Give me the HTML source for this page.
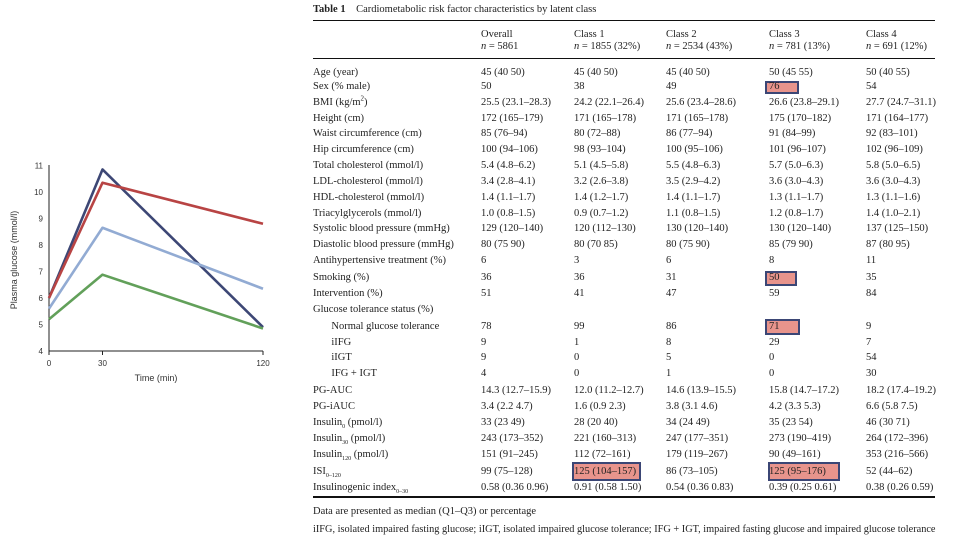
<!DOCTYPE html>
<html><head><meta charset="utf-8">
<style>
body{margin:0;background:#fff;width:960px;height:540px;overflow:hidden;position:relative;font-family:"Liberation Serif",serif;color:#222}
.t{position:absolute;font-size:10.5px;white-space:nowrap;line-height:12px}
.hl{position:absolute;background:#e8948c;border:2px solid #3b4675;box-sizing:border-box}
.ln{position:absolute;background:#111;left:313px;width:622px}
</style></head><body>
<svg id="chart" width="300" height="400" style="position:absolute;left:0;top:0"></svg>
<div id="tbl"></div>
<script>
const times=[0,30,120];
const yTicks=[4,5,6,7,8,9,10,11];
const xTicks=[0,30,120];
const seriesNames=["class-navy","class-red","class-lightblue","class-green"];
const seriesColors=["#3d4775","#b84444","#92abd3","#62a05a"];
const navy=[6.0,10.85,4.9];
const red=[6.0,10.35,8.8];
const lightblue=[5.6,8.65,6.35];
const green=[5.2,6.88,4.85];
const allSeries=[navy,red,lightblue,green];
const NS="http://www.w3.org/2000/svg";
const svg=document.getElementById('chart');
const x=v=>49+(v/120)*214;
const y=v=>351-(v-4)*26.5;
function mk(tag,attrs,parent){const e=document.createElementNS(NS,tag);for(const k in attrs)e.setAttribute(k,attrs[k]);(parent||svg).appendChild(e);return e;}
let a=mk('line',{x1:49,y1:165,x2:49,y2:351,stroke:'#222','stroke-width':1});


a=mk('line',{x1:49,y1:351,x2:263,y2:351,stroke:'#222','stroke-width':1});


yTicks.forEach(t=>{
 const e=mk('text',{x:43,y:y(t)+3,'text-anchor':'end','font-size':8,'font-family':'Liberation Sans','fill':'#333'});
 e.textContent=t;
 
 
});
xTicks.forEach(t=>{
 mk('line',{x1:x(t),y1:351,x2:x(t),y2:355,stroke:'#222'});
 const e=mk('text',{x:x(t),y:366,'text-anchor':'middle','font-size':8,'font-family':'Liberation Sans','fill':'#333'});
 e.textContent=t;
 
 
});
let e=mk('text',{x:156,y:381,'text-anchor':'middle','font-size':9,'font-family':'Liberation Sans','fill':'#333'});
e.textContent='Time (min)';


e=mk('text',{x:0,y:0,'text-anchor':'middle','font-size':9,'font-family':'Liberation Sans','fill':'#333',transform:'translate(17,260) rotate(-90)'});
e.textContent='Plasma glucose (mmol/l)';


allSeries.forEach((s,i)=>{
 const p=mk('polyline',{points:s.map((v,j)=>x(times[j])+','+y(v)).join(' '),fill:'none',stroke:seriesColors[i],'stroke-width':2.6,'stroke-linejoin':'round'});
 
 
});

const cols=[313,481,574,666,769,866];
const rows=[
["Age (year)","45 (40 50)","45 (40 50)","45 (40 50)","50 (45 55)","50 (40 55)"],
["Sex (% male)","50","38","49","76","54"],
["BMI (kg/m<sup style='font-size:7px;line-height:0'>2</sup>)","25.5 (23.1–28.3)","24.2 (22.1–26.4)","25.6 (23.4–28.6)","26.6 (23.8–29.1)","27.7 (24.7–31.1)"],
["Height (cm)","172 (165–179)","171 (165–178)","171 (165–178)","175 (170–182)","171 (164–177)"],
["Waist circumference (cm)","85 (76–94)","80 (72–88)","86 (77–94)","91 (84–99)","92 (83–101)"],
["Hip circumference (cm)","100 (94–106)","98 (93–104)","100 (95–106)","101 (96–107)","102 (96–109)"],
["Total cholesterol (mmol/l)","5.4 (4.8–6.2)","5.1 (4.5–5.8)","5.5 (4.8–6.3)","5.7 (5.0–6.3)","5.8 (5.0–6.5)"],
["LDL-cholesterol (mmol/l)","3.4 (2.8–4.1)","3.2 (2.6–3.8)","3.5 (2.9–4.2)","3.6 (3.0–4.3)","3.6 (3.0–4.3)"],
["HDL-cholesterol (mmol/l)","1.4 (1.1–1.7)","1.4 (1.2–1.7)","1.4 (1.1–1.7)","1.3 (1.1–1.7)","1.3 (1.1–1.6)"],
["Triacylglycerols (mmol/l)","1.0 (0.8–1.5)","0.9 (0.7–1.2)","1.1 (0.8–1.5)","1.2 (0.8–1.7)","1.4 (1.0–2.1)"],
["Systolic blood pressure (mmHg)","129 (120–140)","120 (112–130)","130 (120–140)","130 (120–140)","137 (125–150)"],
["Diastolic blood pressure (mmHg)","80 (75 90)","80 (70 85)","80 (75 90)","85 (79 90)","87 (80 95)"],
["Antihypertensive treatment (%)","6","3","6","8","11"],
["Smoking (%)","36","36","31","50","35"],
["Intervention (%)","51","41","47","59","84"],
["Glucose tolerance status (%)","","","","",""],
["&nbsp;&nbsp;&nbsp;&nbsp;&nbsp;&nbsp;&nbsp;Normal glucose tolerance","78","99","86","71","9"],
["&nbsp;&nbsp;&nbsp;&nbsp;&nbsp;&nbsp;&nbsp;iIFG","9","1","8","29","7"],
["&nbsp;&nbsp;&nbsp;&nbsp;&nbsp;&nbsp;&nbsp;iIGT","9","0","5","0","54"],
["&nbsp;&nbsp;&nbsp;&nbsp;&nbsp;&nbsp;&nbsp;IFG + IGT","4","0","1","0","30"],
["PG-AUC","14.3 (12.7–15.9)","12.0 (11.2–12.7)","14.6 (13.9–15.5)","15.8 (14.7–17.2)","18.2 (17.4–19.2)"],
["PG-iAUC","3.4 (2.2 4.7)","1.6 (0.9 2.3)","3.8 (3.1 4.6)","4.2 (3.3 5.3)","6.6 (5.8 7.5)"],
["Insulin<sub style='font-size:6px'>0</sub> (pmol/l)","33 (23 49)","28 (20 40)","34 (24 49)","35 (23 54)","46 (30 71)"],
["Insulin<sub style='font-size:6px'>30</sub> (pmol/l)","243 (173–352)","221 (160–313)","247 (177–351)","273 (190–419)","264 (172–396)"],
["Insulin<sub style='font-size:6px'>120</sub> (pmol/l)","151 (91–245)","112 (72–161)","179 (119–267)","90 (49–161)","353 (216–566)"],
["ISI<sub style='font-size:6px'>0–120</sub>","99 (75–128)","125 (104–157)","86 (73–105)","125 (95–176)","52 (44–62)"],
["Insulinogenic index<sub style='font-size:6px'>0–30</sub>","0.58 (0.36 0.96)","0.91 (0.58 1.50)","0.54 (0.36 0.83)","0.39 (0.25 0.61)","0.38 (0.26 0.59)"]
];
const rowY=[67,81,97,113,128,144,160,176,192,208,223,239,255,272,288,304,321,337,352,368,385,401,417,433,449,466,482];
let h='';
h+='<div class="hl" style="left:765px;top:81px;width:34px;height:13px"></div>';
h+='<div class="hl" style="left:765px;top:271px;width:32px;height:15px"></div>';
h+='<div class="hl" style="left:765px;top:319px;width:35px;height:16px"></div>';
h+='<div class="hl" style="left:572px;top:462px;width:69px;height:19px"></div>';
h+='<div class="hl" style="left:768px;top:462px;width:72px;height:19px"></div>';
h+='<div class="t" style="left:313px;top:4px"><b>Table 1</b>&nbsp;&nbsp;&nbsp;&nbsp;Cardiometabolic risk factor characteristics by latent class</div>';
h+='<div class="ln" style="top:20px;height:1px"></div>';
h+='<div class="ln" style="top:58px;height:1px"></div>';
h+='<div class="ln" style="top:496px;height:2px"></div>';
const hd=[["Overall","5861"],["Class 1","1855 (32%)"],["Class 2","2534 (43%)"],["Class 3","781 (13%)"],["Class 4","691 (12%)"]];
hd.forEach((c,i)=>{h+='<div class="t" style="left:'+cols[i+1]+'px;top:29px">'+c[0]+'<br><i>n</i> = '+c[1]+'</div>';});
rows.forEach((r,ri)=>{r.forEach((c,ci)=>{h+='<div class="t" style="left:'+cols[ci]+'px;top:'+rowY[ri]+'px">'+c+'</div>';});});
h+='<div class="t" style="left:313px;top:506px">Data are presented as median (Q1–Q3) or percentage</div>';
h+='<div class="t" style="left:313px;top:524px;font-size:10.3px">iIFG, isolated impaired fasting glucose; iIGT, isolated impaired glucose tolerance; IFG + IGT, impaired fasting glucose and impaired glucose tolerance</div>';
document.getElementById('tbl').innerHTML=h;
</script>
</body></html>
